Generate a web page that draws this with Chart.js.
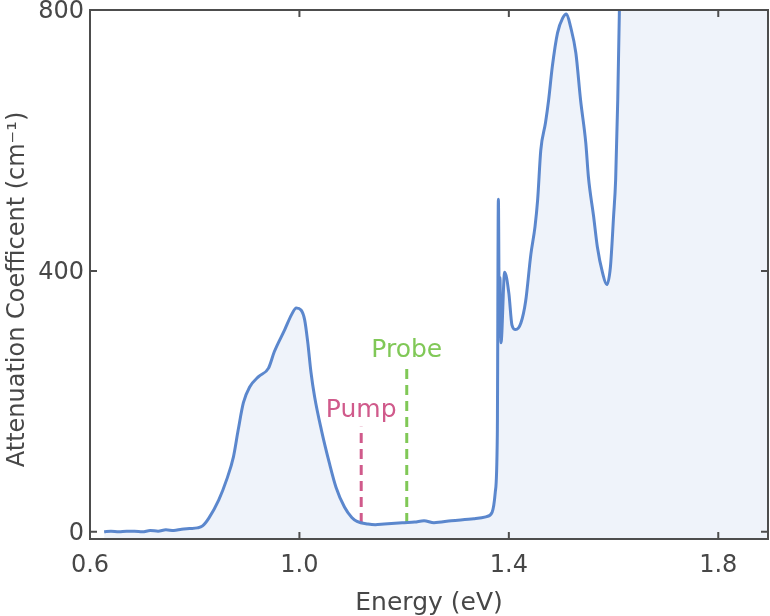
<!DOCTYPE html>
<html>
<head>
<meta charset="utf-8">
<script src="https://cdn.jsdelivr.net/npm/chart.js@4.4.1/dist/chart.umd.min.js"></script>
<style>
  html, body { margin: 0; padding: 0; background: #fff; }
  #wrap { width: 770px; height: 616px; }
</style>
</head>
<body>
<div id="wrap"><canvas id="absChart" width="770" height="616"></canvas></div>
<script>
// spectrum (eV, cm^-1)
const energy = [
  0.627, 0.640, 0.655, 0.670, 0.685, 0.700, 0.715, 0.730, 0.745, 0.760,
  0.775, 0.790, 0.805, 0.815, 0.827, 0.846, 0.861, 0.874, 0.883, 0.893,
  0.905, 0.922, 0.941, 0.952, 0.972, 0.985, 0.994, 1.003, 1.010, 1.016,
  1.022, 1.029, 1.042, 1.057, 1.070, 1.086, 1.100, 1.110, 1.131, 1.145,
  1.162, 1.200, 1.220, 1.238, 1.257, 1.290, 1.333, 1.356, 1.368, 1.374,
  1.378, 1.380, 1.382, 1.383, 1.385, 1.392, 1.400, 1.406, 1.413, 1.423,
  1.432, 1.442, 1.450, 1.455, 1.461, 1.470, 1.476, 1.483, 1.493, 1.503,
  1.510, 1.518, 1.528, 1.537, 1.547, 1.552, 1.562, 1.569, 1.579, 1.587,
  1.594, 1.600, 1.604, 1.608, 1.611, 1.614, 1.620, 1.700, 1.800, 1.900
];
const attenuation = [
  0, 1, 0, 1, 1, 0, 2, 1, 3, 2,
  4, 5, 6, 9, 21, 49, 80, 115, 156, 198,
  222, 238, 251, 276, 310, 333, 343, 340, 325, 290,
  245, 207, 156, 106, 68, 38, 22, 16, 12, 11,
  12, 14, 15, 17, 14, 17, 20, 23, 30, 60,
  150, 510, 300, 390, 290, 398, 366, 317, 310, 320,
  353, 425, 468, 509, 585, 627, 662, 713, 765, 788,
  794, 774, 734, 662, 596, 544, 483, 437, 397, 379,
  406, 483, 540, 662, 792, 1000, 1400, 1600, 1800, 2000
];

const xTicks = [0.6, 1.0, 1.4, 1.8];
const yTicks = [0, 400, 800];

// pump / probe photon energies and how tall the dashed markers are drawn
const markerNames = ['Pump', 'Probe'];
const markerEnergy = [1.118, 1.205];
const markerTop = [161, 253];

const Y_MIN = -11;
const FONT = "'DejaVu Sans', Verdana, sans-serif";
const INK = '#474747';
const Y_TITLE = 'Attenuation Coefficent (cm\u207B\u00B9)';

const markerColors = ['#d05a8b', '#80c857'];

const markerSets = markerNames.map((name, i) => ({
  label: name,
  data: [{ x: markerEnergy[i], y: Y_MIN }, { x: markerEnergy[i], y: markerTop[i] }],
  borderColor: markerColors[i],
  borderWidth: 3,
  borderDash: [10, 6],
  pointRadius: 0,
  fill: false
}));

// box frame, inward ticks, marker captions and the y title
const frameTicks = {
  id: 'frameTicks',
  afterDatasetsDraw(chart) {
    const { ctx, chartArea: a, scales: { x, y } } = chart;
    ctx.save();
    ctx.strokeStyle = '#4d4d4d';
    ctx.lineWidth = 2;
    ctx.strokeRect(a.left, a.top, a.right - a.left, a.bottom - a.top);

    ctx.beginPath();
    xTicks.forEach(v => {
      const px = x.getPixelForValue(v);
      ctx.moveTo(px, a.bottom); ctx.lineTo(px, a.bottom - 7);
      ctx.moveTo(px, a.top); ctx.lineTo(px, a.top + 7);
    });
    yTicks.forEach(v => {
      const py = y.getPixelForValue(v);
      ctx.moveTo(a.left, py); ctx.lineTo(a.left + 7, py);
      ctx.moveTo(a.right, py); ctx.lineTo(a.right - 7, py);
    });
    ctx.stroke();

    ctx.font = '25px ' + FONT;
    ctx.textAlign = 'center';
    ctx.textBaseline = 'alphabetic';
    markerNames.forEach((name, i) => {
      ctx.fillStyle = markerColors[i];
      ctx.fillText(name, x.getPixelForValue(markerEnergy[i]), y.getPixelForValue(markerTop[i]) - 10);
    });

    // y title sits a little below the middle of the axis in the original
    ctx.fillStyle = INK;
    ctx.font = '24px ' + FONT;
    ctx.textBaseline = 'middle';
    ctx.translate(18, (a.top + a.bottom) / 2 + 15);
    ctx.rotate(-Math.PI / 2);
    ctx.fillText(Y_TITLE, 0, 0);
    ctx.restore();
  }
};

const ctx = document.getElementById('absChart').getContext('2d');
new Chart(ctx, {
  type: 'line',
  data: {
    datasets: [{
      label: 'Attenuation',
      data: energy.map((e, i) => ({ x: e, y: attenuation[i] })),
      borderColor: '#5b87cd',
      backgroundColor: '#eff3fa',
      borderWidth: 3,
      pointRadius: 0,
      fill: 'start',
      cubicInterpolationMode: 'monotone'
    }, ...markerSets]
  },
  options: {
    responsive: false,
    animation: false,
    devicePixelRatio: 1,
    layout: { padding: { top: 10, right: 2, left: 0, bottom: 0 } },
    plugins: {
      legend: { display: false },
      tooltip: { enabled: false }
    },
    scales: {
      x: {
        type: 'linear',
        min: 0.6,
        max: 1.895,
        afterBuildTicks: s => { s.ticks = xTicks.map(v => ({ value: v })); },
        afterFit: s => { s.height = 77; s.paddingLeft = 0; s.paddingRight = 0; },
        grid: { display: false, drawTicks: false },
        border: { display: false },
        ticks: {
          color: INK,
          padding: 12,
          maxRotation: 0,
          font: { family: FONT, size: 24 },
          callback: v => v.toFixed(1)
        },
        title: {
          display: true,
          text: 'Energy (eV)',
          color: INK,
          padding: { top: 0, bottom: 0 },
          font: { family: FONT, size: 25, lineHeight: 1 }
        }
      },
      y: {
        type: 'linear',
        min: Y_MIN,
        max: 800,
        afterBuildTicks: s => { s.ticks = yTicks.map(v => ({ value: v })); },
        afterFit: s => { s.width = 90; s.paddingTop = 0; s.paddingBottom = 0; },
        grid: { display: false, drawTicks: false },
        border: { display: false },
        ticks: {
          color: INK,
          padding: 6,
          labelOffset: 2,
          font: { family: FONT, size: 24 }
        },
        title: { display: false }
      }
    }
  },
  plugins: [frameTicks]
});
</script>
</body>
</html>
